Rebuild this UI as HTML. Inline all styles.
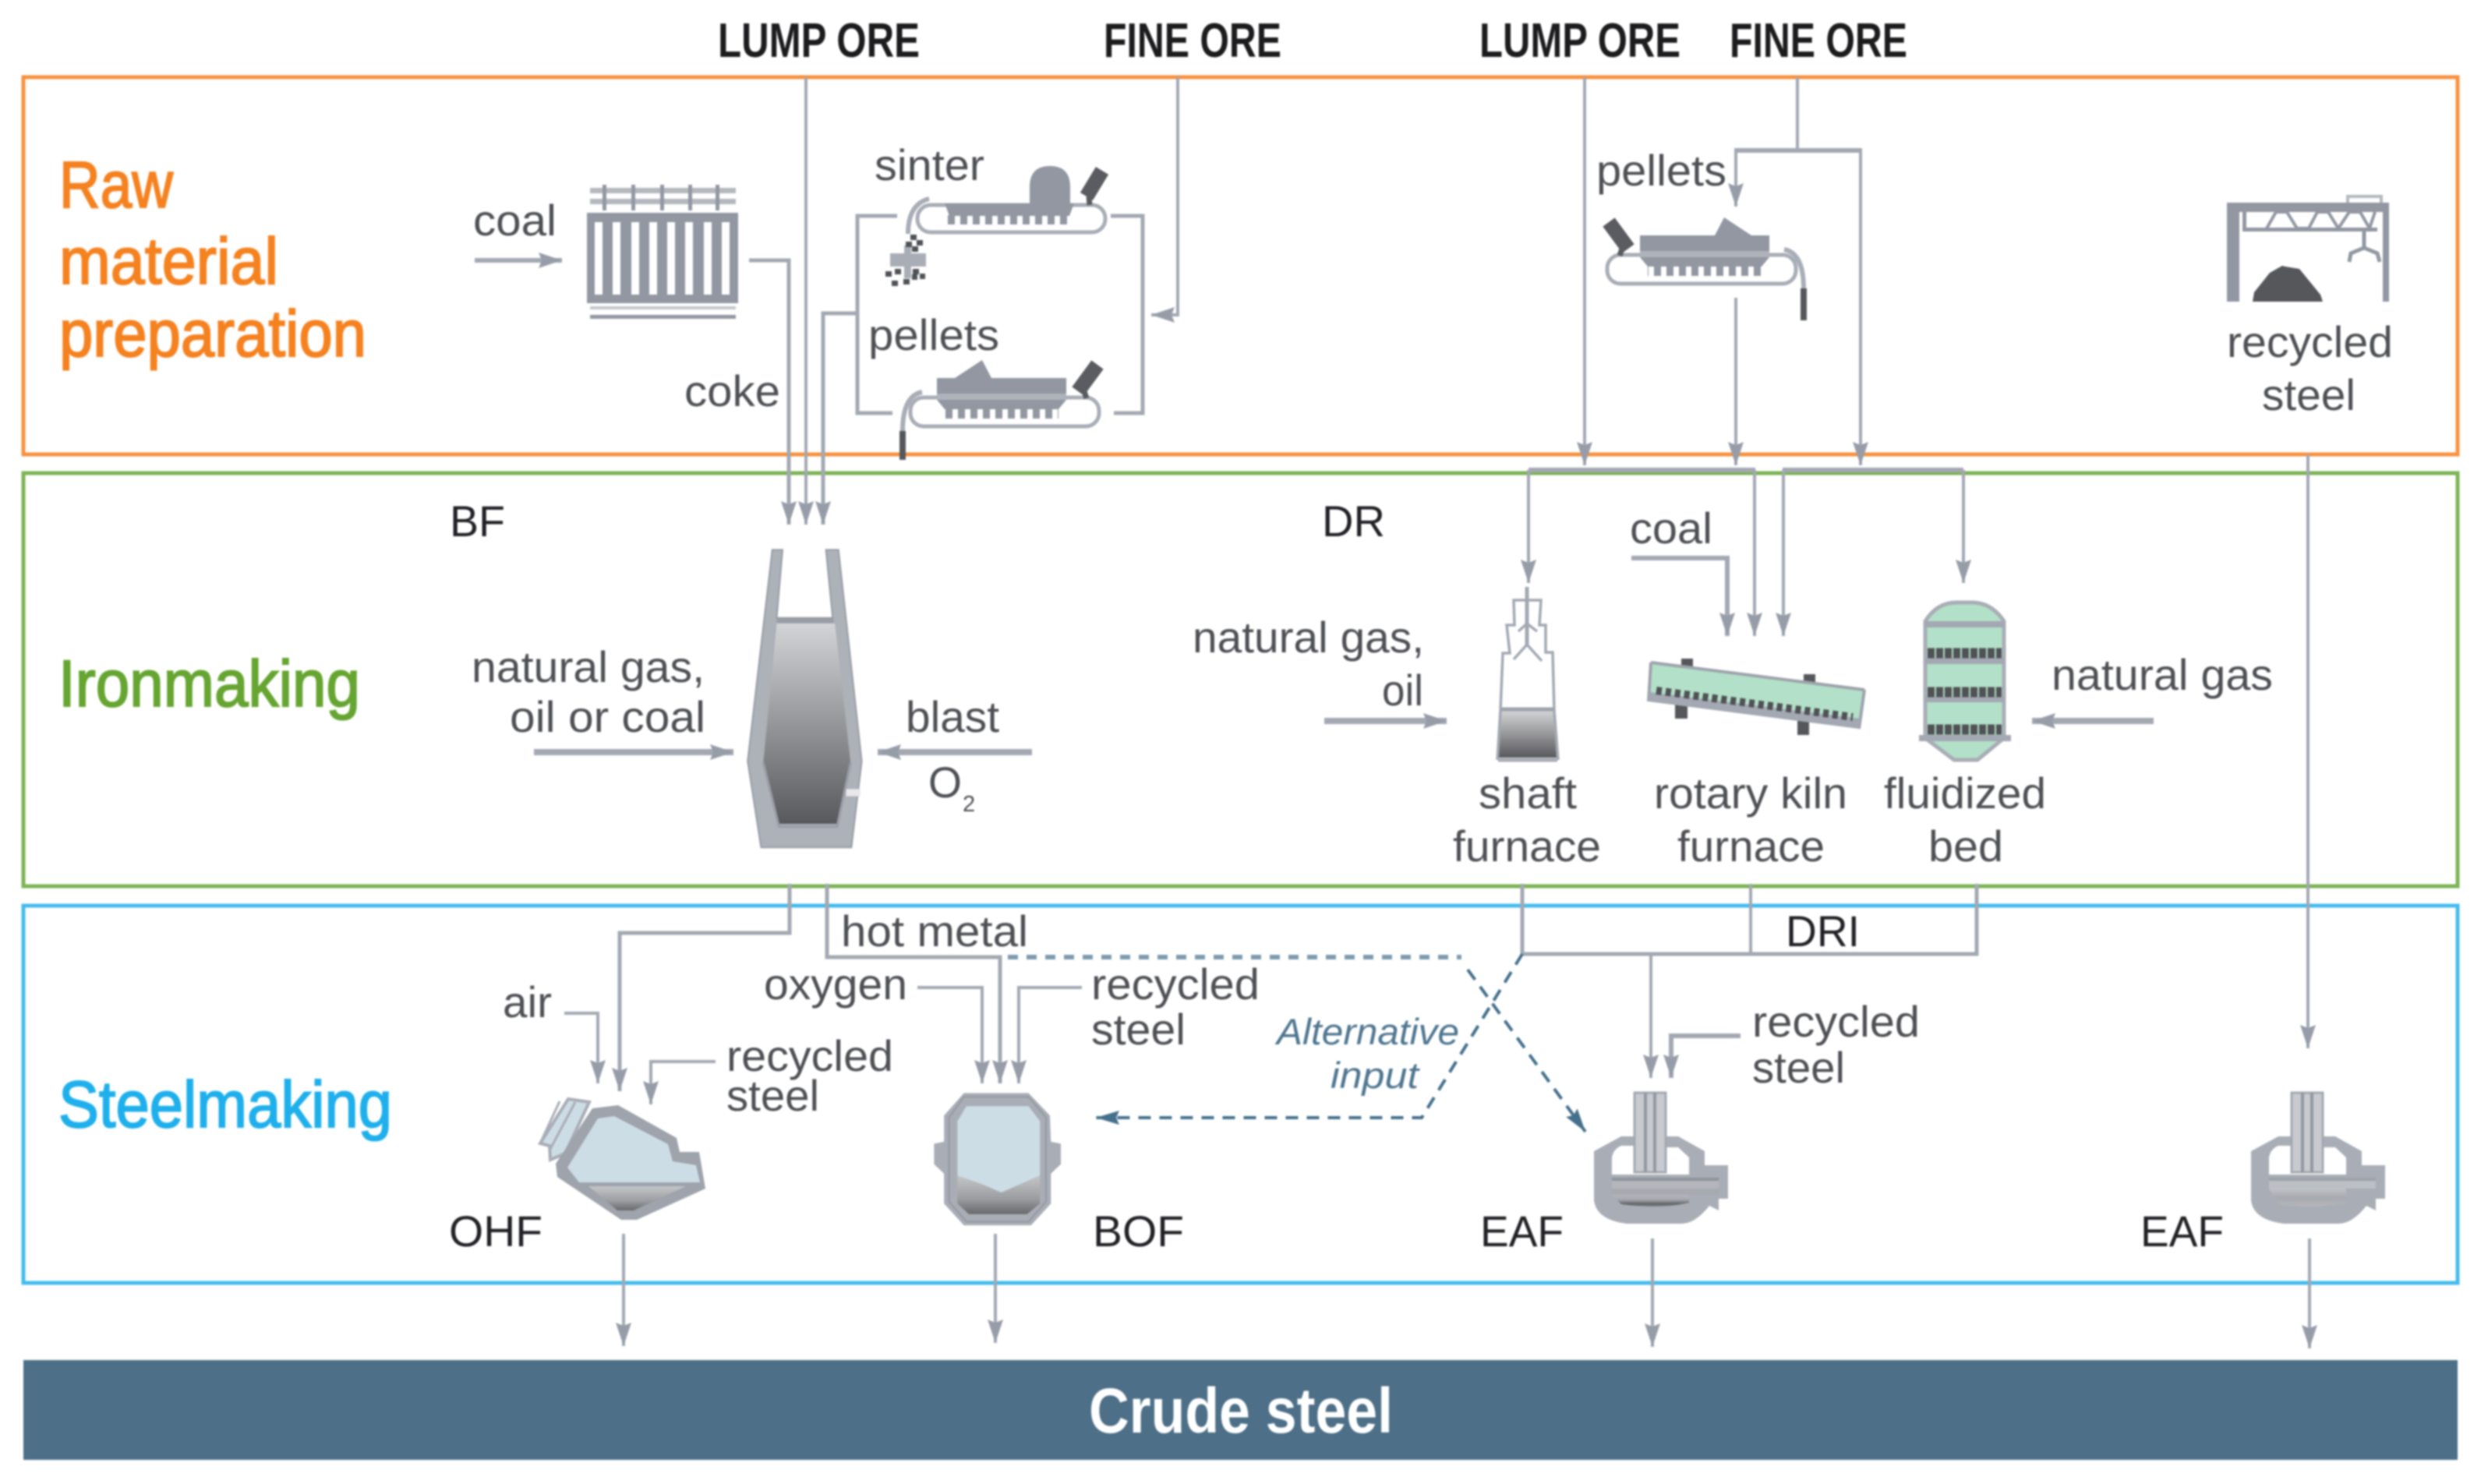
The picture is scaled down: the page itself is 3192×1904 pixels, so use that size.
<!DOCTYPE html>
<html><head><meta charset="utf-8"><style>
html,body{margin:0;padding:0;background:#fff}
svg{display:block;filter:blur(1.1px)}
text{font-family:"Liberation Sans",sans-serif;font-size:56px;fill:#4e5054}
.k{fill:#222226}
.h{font-weight:bold;font-size:62px;fill:#1c1c1e}
.o{font-size:84px;fill:#f58220;stroke:#f58220;stroke-width:2px}
.g{font-size:84px;fill:#66a531;stroke:#66a531;stroke-width:2px}
.b{font-size:84px;fill:#1fb0ec;stroke:#1fb0ec;stroke-width:2px}
.a{font-style:italic;font-size:47px;fill:#4f7690}
.l{fill:none;stroke:#a3a8b2;stroke-width:4}
.m{stroke-width:5}
.t{fill:none;stroke:#a3a8b2;stroke-width:8}
.z *{vector-effect:non-scaling-stroke}
</style></head><body>
<svg width="3192" height="1904" viewBox="0 0 3192 1904" xmlns="http://www.w3.org/2000/svg">
<defs>
<marker id="ar" markerUnits="userSpaceOnUse" markerWidth="40" markerHeight="30" refX="30" refY="15" orient="auto"><path d="M0,5 L4,15 L0,25 L30,15 Z" fill="#979da8"/></marker>
<marker id="ad" markerUnits="userSpaceOnUse" markerWidth="40" markerHeight="30" refX="30" refY="15" orient="auto"><path d="M0,6 L4,15 L0,24 L30,15 Z" fill="#44708c"/></marker>
<linearGradient id="gr1" x1="0" y1="0" x2="0" y2="1"><stop offset="0" stop-color="#d2d4d6"/><stop offset="1" stop-color="#58595d"/></linearGradient>
<linearGradient id="gr2" x1="0" y1="0" x2="0" y2="1"><stop offset="0" stop-color="#c4c6c8"/><stop offset=".6" stop-color="#9b9da1"/><stop offset="1" stop-color="#68696d"/></linearGradient>
<linearGradient id="gr3" x1="0" y1="0" x2="0" y2="1"><stop offset="0" stop-color="#b4b6bb"/><stop offset=".4" stop-color="#a7aab0"/><stop offset=".8" stop-color="#5f6064"/><stop offset="1" stop-color="#8c8e93"/></linearGradient>
<linearGradient id="gr4" x1="0" y1="0" x2="0" y2="1"><stop offset="0" stop-color="#c0c3c8"/><stop offset=".5" stop-color="#a7aab0"/><stop offset="1" stop-color="#b5b7bc"/></linearGradient>
</defs>

<!-- frames -->
<rect x="30" y="99" width="3123" height="484" fill="none" stroke="#f7923f" stroke-width="5"/>
<rect x="30" y="607" width="3123" height="530" fill="none" stroke="#7db356" stroke-width="5"/>
<rect x="30" y="1162" width="3123" height="484" fill="none" stroke="#45bced" stroke-width="5"/>
<rect x="30" y="1745" width="3123" height="128" fill="#4d6f87"/>

<!-- headers -->
<text class="h" x="921" y="73" textLength="259" lengthAdjust="spacingAndGlyphs">LUMP ORE</text>
<text class="h" x="1416" y="73" textLength="228" lengthAdjust="spacingAndGlyphs">FINE ORE</text>
<text class="h" x="1898" y="73" textLength="258" lengthAdjust="spacingAndGlyphs">LUMP ORE</text>
<text class="h" x="2219" y="73" textLength="228" lengthAdjust="spacingAndGlyphs">FINE ORE</text>

<text class="o" x="76" y="266" textLength="146" lengthAdjust="spacingAndGlyphs">Raw</text>
<text class="o" x="76" y="364" textLength="281" lengthAdjust="spacingAndGlyphs">material</text>
<text class="o" x="76" y="457" textLength="394" lengthAdjust="spacingAndGlyphs">preparation</text>
<text class="g" x="75" y="906" textLength="387" lengthAdjust="spacingAndGlyphs">Ironmaking</text>
<text class="b" x="75" y="1446" textLength="428" lengthAdjust="spacingAndGlyphs">Steelmaking</text>
<text x="1397" y="1838" textLength="390" lengthAdjust="spacingAndGlyphs" style="font-size:82px;font-weight:bold;fill:#fff">Crude steel</text>

<!-- raw zone connectors -->
<path class="t" d="M609,334 H721" style="stroke-width:6" marker-end="url(#ar)"/>
<path class="l m" d="M961,334 H1012 V673" marker-end="url(#ar)"/>
<path class="l" d="M1034,99 V673" marker-end="url(#ar)"/>
<path class="l m" d="M1100,402 H1056 V673" marker-end="url(#ar)"/>
<path class="l m" d="M1151,277 H1100 V530 H1145"/>
<path class="l m" d="M1425,277 H1466 V530 H1429"/>
<path class="l" d="M1511,99 V404 H1477" marker-end="url(#ar)"/>
<path class="l" d="M2033,99 V597" marker-end="url(#ar)"/>
<path class="l" d="M2306,99 V193"/>
<path class="l" d="M2227,193 V265" marker-end="url(#ar)"/>
<path class="l" d="M2387,193 V597" marker-end="url(#ar)"/>
<path class="l" style="stroke-width:6" d="M2225,193 H2389"/>
<path class="l" d="M2227,382 V597" marker-end="url(#ar)"/>
<path class="l" style="stroke-width:6" d="M1961,603 H2252"/>
<path class="l" style="stroke-width:6" d="M2287,603 H2519"/>
<path class="l" d="M1961,603 V748" marker-end="url(#ar)"/>
<path class="l" d="M2251,603 V816" marker-end="url(#ar)"/>
<path class="l" d="M2288,603 V816" marker-end="url(#ar)"/>
<path class="l" d="M2519,603 V748" marker-end="url(#ar)"/>
<path class="l" style="stroke-width:6" d="M2093,716 H2216 V816" marker-end="url(#ar)"/>
<path class="l" d="M2961,583 V1345" marker-end="url(#ar)"/>

<!-- ironmaking arrows -->
<path class="t" d="M685,965 H941" marker-end="url(#ar)"/>
<path class="t" d="M1324,965 H1126" marker-end="url(#ar)"/>
<path class="t" d="M1699,925 H1856" marker-end="url(#ar)"/>
<path class="t" d="M2763,925 H2607" marker-end="url(#ar)"/>

<!-- steel connectors -->
<path class="l m" d="M1013,1134 V1197 H795 V1400" marker-end="url(#ar)"/>
<path class="l m" d="M1061,1134 V1228 H1283 V1390" marker-end="url(#ar)"/>
<path class="l m" d="M1953,1134 V1224 H2536 V1134"/>
<path class="l" d="M2246,1134 V1224"/>
<path class="l" d="M2118,1224 V1383" marker-end="url(#ar)"/>
<path class="l" style="stroke-width:6" d="M2233,1329 H2144 V1383" marker-end="url(#ar)"/>
<path class="l" d="M724,1300 H767 V1390" marker-end="url(#ar)"/>
<path class="l" d="M918,1362 H835 V1417" marker-end="url(#ar)"/>
<path class="l" d="M1177,1267 H1260 V1390" marker-end="url(#ar)"/>
<path class="l" d="M1388,1267 H1307 V1390" marker-end="url(#ar)"/>
<path class="l" d="M800,1583 V1727" marker-end="url(#ar)"/>
<path class="l" d="M1277,1583 V1723" marker-end="url(#ar)"/>
<path class="l" d="M2120,1589 V1728" marker-end="url(#ar)"/>
<path class="l" d="M2963,1589 V1730" marker-end="url(#ar)"/>

<!-- dashed -->
<path d="M1293,1228 H1875" fill="none" stroke="#7d9bb0" stroke-width="6" stroke-dasharray="13 11"/>
<path d="M1883,1244 L2034,1452" fill="none" stroke="#44708c" stroke-width="4" stroke-dasharray="16 11" marker-end="url(#ad)"/>
<path d="M1953,1224 L1824,1434 H1406" fill="none" stroke="#44708c" stroke-width="4" stroke-dasharray="16 11" marker-end="url(#ad)"/>

<!-- coke oven -->
<g fill="#9297a2">
<rect x="753" y="273" width="194" height="116"/>
<g fill="#fff"><rect x="763" y="285" width="10" height="93"/><rect x="786" y="285" width="10" height="93"/><rect x="810" y="285" width="10" height="93"/><rect x="833" y="285" width="10" height="93"/><rect x="856" y="285" width="10" height="93"/><rect x="879" y="285" width="10" height="93"/><rect x="903" y="285" width="10" height="93"/><rect x="926" y="285" width="10" height="93"/></g>
<rect x="757" y="241" width="187" height="7" fill="#b5b8bf"/><rect x="757" y="255" width="187" height="7" fill="#b5b8bf"/>
<rect x="773" y="237" width="5" height="33"/><rect x="810" y="237" width="5" height="33"/><rect x="847" y="237" width="5" height="33"/><rect x="883" y="237" width="5" height="33"/><rect x="918" y="237" width="5" height="33"/>
<rect x="757" y="393" width="187" height="4" fill="#c5c8cd"/><rect x="757" y="404" width="187" height="5"/>
</g>

<!-- sinter -->
<rect x="1177" y="263" width="241" height="35" rx="17" fill="#fff" stroke="#a9adb6" stroke-width="5"/>
<path d="M1321,263 V240 Q1321,213 1347,213 Q1373,213 1373,240 V263 Z" fill="#9297a2"/>
<path d="M1212,261 H1378 L1372,277 H1218 Z" fill="#9297a2"/>
<path d="M1216,282 H1374" stroke="#9297a2" stroke-width="12" stroke-dasharray="9 7"/>
<path d="M1414,219 L1394,252" stroke="#5a5c61" stroke-width="19"/>
<path d="M1397,252 L1398,263" stroke="#5a5c61" stroke-width="7"/>
<path d="M1192,255 Q1165,262 1165,300" fill="none" stroke="#a9adb6" stroke-width="6"/>
<rect x="1142" y="325" width="46" height="17" fill="#a9adb6"/>
<rect x="1160" y="315" width="9" height="42" fill="#a9adb6"/>
<g fill="#505256"><rect x="1168" y="301" width="8" height="7"/><rect x="1176" y="308" width="8" height="7"/><rect x="1162" y="310" width="8" height="7"/><rect x="1170" y="316" width="8" height="7"/><rect x="1136" y="348" width="8" height="7"/><rect x="1148" y="345" width="8" height="7"/><rect x="1171" y="345" width="8" height="7"/><rect x="1180" y="351" width="7" height="7"/><rect x="1144" y="360" width="8" height="7"/><rect x="1159" y="358" width="8" height="7"/><rect x="1170" y="352" width="7" height="7"/></g>

<!-- pellets machine (two instances) -->
<g>
<rect x="1168" y="510" width="242" height="37" rx="17" fill="#fff" stroke="#a9adb6" stroke-width="5"/>
<path d="M1202,505 V485 H1225 L1260,462 L1272,485 H1368 V505 Z" fill="#9297a2"/>
<path d="M1202,505 H1368 V513 H1202 Z" fill="#aeb2ba"/>
<path d="M1202,513 H1368 L1358,525 H1212 Z" fill="#9297a2"/>
<path d="M1213,531 H1358" stroke="#9297a2" stroke-width="12" stroke-dasharray="9 7"/>
<path d="M1408,468 L1383,502" stroke="#5a5c61" stroke-width="19"/>
<path d="M1391,502 L1394,511" stroke="#5a5c61" stroke-width="7"/>
<path d="M1183,503 Q1158,508 1158,553" fill="none" stroke="#a9adb6" stroke-width="6"/>
<path d="M1158,553 V590" stroke="#55575b" stroke-width="8"/>
</g>
<g transform="translate(3472,-183) scale(-1,1)">
<rect x="1168" y="510" width="242" height="37" rx="17" fill="#fff" stroke="#a9adb6" stroke-width="5"/>
<path d="M1202,505 V485 H1225 L1260,462 L1272,485 H1368 V505 Z" fill="#9297a2"/>
<path d="M1202,505 H1368 V513 H1202 Z" fill="#aeb2ba"/>
<path d="M1202,513 H1368 L1358,525 H1212 Z" fill="#9297a2"/>
<path d="M1213,531 H1358" stroke="#9297a2" stroke-width="12" stroke-dasharray="9 7"/>
<path d="M1408,468 L1383,502" stroke="#5a5c61" stroke-width="19"/>
<path d="M1391,502 L1394,511" stroke="#5a5c61" stroke-width="7"/>
<path d="M1183,503 Q1158,508 1158,553" fill="none" stroke="#a9adb6" stroke-width="6"/>
<path d="M1158,553 V594" stroke="#55575b" stroke-width="8"/>
</g>

<!-- crane -->
<g fill="#9297a2">
<rect x="2857" y="260" width="208" height="12"/>
<rect x="2857" y="260" width="16" height="127"/>
<rect x="3057" y="260" width="8" height="127"/>
<rect x="2877" y="292" width="173" height="5"/>
<rect x="2877" y="272" width="5" height="22"/>
<path d="M2908,293 L2920,272 L2934,272 L2947,293 L2962,293 L2973,272 L2987,272 L3000,293 L3014,272 L3028,272 L3040,293 L3047,272" fill="none" stroke="#9297a2" stroke-width="4"/>
<path d="M3012,260 V252 H3055 V260" fill="none" stroke="#b5b8bf" stroke-width="4"/>
<path d="M3033,296 V318 M3033,318 L3016,325 L3014,336 M3033,318 L3050,325 L3053,336" fill="none" stroke="#9297a2" stroke-width="5"/>
</g>
<path d="M2890,387 H2980 L2977,378 L2950,345 L2932,342 L2928,341 L2912,350 L2892,375 Z" fill="#55575b"/>

<!-- BF -->
<g class="z" transform="translate(500,600) scale(.574,.357)">
<path d="M855,295 L800,1055 L830,1365 L1032,1365 L1055,1055 L1003,295 L975,295 L990,540 L865,540 L878,295 Z" fill="#adb1b8" stroke="#999da6" stroke-width="2"/>
<path d="M865,560 L995,560 L1030,1060 L1000,1280 L870,1280 L835,1060 Z" fill="url(#gr1)"/>
<path d="M865,550 H992" stroke="#999da6" stroke-width="6"/>
<path d="M835,1060 L870,1290 H1000 L1030,1060" fill="none" stroke="#999da6" stroke-width="3"/>
<rect x="1020" y="1155" width="32" height="26" fill="#e8e8ea"/>
</g>

<!-- shaft furnace -->
<path d="M1925,912 H1993 L1997,972 H1922 Z" fill="url(#gr1)"/>
<path d="M1922,975 H1998" stroke="#a9adb6" stroke-width="5"/>
<path d="M1924,910 H1994" stroke="#9ea3ac" stroke-width="5"/>
<g fill="none" stroke="#a3a8b2" stroke-width="3.5">
<path d="M1921,975 L1925,912 L1928,838 H1937 L1933,802 H1943 L1942,770 H1977 L1975,802 H1983 V837 H1992 L1994,912 L1999,975"/>
<path d="M1942,846 L1959,827 L1978,848"/>
<path d="M1948,810 L1959,800 L1972,810"/>
</g>
<path d="M1959,753 V827" stroke="#a3a8b2" stroke-width="5"/>

<!-- kiln -->
<g fill="#55575b">
<rect x="2157" y="845" width="15" height="14"/>
<rect x="2314" y="865" width="15" height="16"/>
<rect x="2149" y="902" width="16" height="20"/>
<rect x="2306" y="922" width="15" height="21"/>
</g>
<path d="M2118,850 L2392,885 L2385,935 L2115,900 Z" fill="#b3e0c8"/>
<path d="M2118,850 L2392,885 M2118,850 L2115,900 M2392,885 L2385,935" fill="none" stroke="#9ea3ac" stroke-width="4"/>
<path d="M2116,888 L2387,922 L2385,935 L2115,900 Z" fill="#a3a8b2"/>
<path d="M2125,886 L2377,920" stroke="#4f5155" stroke-width="10" stroke-dasharray="7 5"/>

<!-- fluidized bed -->
<path d="M2470,797 Q2485,773 2510,773 H2530 Q2555,773 2571,797 V947 L2537,975 H2507 L2470,947 Z" fill="#b3e0c8" stroke="#a9adb6" stroke-width="5"/>
<rect x="2470" y="797" width="101" height="8" fill="#a3a8b2"/>
<rect x="2470" y="844" width="101" height="8" fill="#a3a8b2"/>
<rect x="2470" y="894" width="101" height="7" fill="#a3a8b2"/>
<rect x="2462" y="943" width="118" height="8" fill="#a3a8b2"/>
<path d="M2473,838 H2568 M2473,888 H2568 M2473,936 H2568" stroke="#505256" stroke-width="13" stroke-dasharray="9 2"/>

<!-- OHF -->
<path d="M729,1410 L756,1414 L725,1480 L706,1488 L705,1470 L693,1467 Z" fill="#cddde6" stroke="#a9adb6" stroke-width="4"/>
<path d="M718,1413 L693,1467 M738,1414 L705,1476" stroke="#a9adb6" stroke-width="3"/>
<path d="M760,1422 L793,1418 L868,1460 L872,1478 L897,1478 L905,1525 L817,1565 L797,1565 L715,1510 L713,1493 Z" fill="#9ea3ac"/>
<path d="M767,1435 L788,1432 L857,1468 L863,1490 L893,1495 L898,1517 L743,1517 L728,1498 Z" fill="#cddde6"/>
<path d="M755,1522 H880 L813,1553 H792 Z" fill="url(#gr2)"/>

<!-- BOF -->
<g class="z" transform="translate(500,1150) scale(.6378,.4808)">
<path d="M1155,525 L1285,525 L1328,585 L1330,655 L1350,660 L1350,715 L1330,740 L1330,820 L1290,878 L1155,878 L1115,820 L1115,740 L1095,715 L1095,660 L1115,655 L1115,585 Z" fill="#a9adb6"/>
<path d="M1155,535 L1285,535 L1320,590 V815 L1285,868 H1160 L1125,815 V590 Z" fill="none" stroke="#94989f" stroke-width="2"/>
<path d="M1160,560 L1285,560 L1308,600 L1308,745 L1265,770 L1230,790 L1195,770 L1142,745 L1142,600 Z" fill="#cddde6"/>
<path d="M1142,745 L1195,770 L1230,792 L1265,770 L1308,745 L1308,820 L1282,848 L1165,848 L1142,820 Z" fill="url(#gr2)"/>
</g>

<!-- EAF 1 -->
<path d="M2045,1477 L2080,1458 H2097 V1470 H2080 Q2070,1474 2068,1485 V1507 H2167 V1485 L2153,1472 H2137 V1458 H2153 L2187,1477 V1495 H2217 V1538 H2205 V1553 L2193,1547 Q2175,1570 2157,1570 H2087 Q2048,1565 2045,1540 Z" fill="#a9adb6"/>
<rect x="2068" y="1513" width="137" height="12" fill="#b4b6bb"/>
<rect x="2068" y="1511" width="137" height="4" fill="#8f939c"/>
<rect x="2068" y="1525" width="137" height="8" fill="#a7aab0"/>
<path d="M2068,1533 H2167 V1543 Q2130,1552 2080,1545 Z" fill="url(#gr3)"/>
<rect x="2097" y="1402" width="40" height="102" fill="#c8cacf" stroke="#a3a8b2" stroke-width="3"/>
<path d="M2111,1402 V1504 M2123,1402 V1504" stroke="#9297a2" stroke-width="4"/>
<!-- EAF 2 -->
<g transform="translate(843,0)">
<path d="M2045,1477 L2080,1458 H2097 V1470 H2080 Q2070,1474 2068,1485 V1507 H2167 V1485 L2153,1472 H2137 V1458 H2153 L2187,1477 V1495 H2217 V1538 H2205 V1553 L2193,1547 Q2175,1570 2157,1570 H2087 Q2048,1565 2045,1540 Z" fill="#a9adb6"/>
<rect x="2068" y="1513" width="137" height="12" fill="#bcbfc4"/>
<rect x="2068" y="1511" width="137" height="4" fill="#9ea2aa"/>
<path d="M2068,1525 H2167 V1543 Q2130,1552 2080,1545 Z" fill="url(#gr4)"/>
<rect x="2097" y="1402" width="40" height="102" fill="#c8cacf" stroke="#a3a8b2" stroke-width="3"/>
<path d="M2111,1402 V1504 M2123,1402 V1504" stroke="#9297a2" stroke-width="4"/>
</g>

<!-- labels -->
<g transform="translate(-2,0)">
<text x="609" y="302" textLength="107" lengthAdjust="spacingAndGlyphs">coal</text>
<text x="880" y="521" textLength="123" lengthAdjust="spacingAndGlyphs">coke</text>
<text x="1124" y="231" textLength="141" lengthAdjust="spacingAndGlyphs">sinter</text>
<text x="1116" y="449" textLength="168" lengthAdjust="spacingAndGlyphs">pellets</text>
<text x="2050" y="238" textLength="167" lengthAdjust="spacingAndGlyphs">pellets</text>
<text x="2859" y="458" textLength="213" lengthAdjust="spacingAndGlyphs">recycled</text>
<text x="2904" y="526" textLength="120" lengthAdjust="spacingAndGlyphs">steel</text>
<text class="k" x="579" y="688" textLength="71" lengthAdjust="spacingAndGlyphs">BF</text>
<text x="607" y="875" textLength="299" lengthAdjust="spacingAndGlyphs">natural gas,</text>
<text x="656" y="939" textLength="251" lengthAdjust="spacingAndGlyphs">oil or coal</text>
<text x="1164" y="939" textLength="120" lengthAdjust="spacingAndGlyphs">blast</text>
<text x="1193" y="1023" textLength="43" lengthAdjust="spacingAndGlyphs">O</text>
<text x="1237" y="1041" style="font-size:29px">2</text>
<text class="k" x="1698" y="688" textLength="81" lengthAdjust="spacingAndGlyphs">DR</text>
<text x="2093" y="697" textLength="106" lengthAdjust="spacingAndGlyphs">coal</text>
<text x="1532" y="837" textLength="297" lengthAdjust="spacingAndGlyphs">natural gas,</text>
<text x="1775" y="905" textLength="53" lengthAdjust="spacingAndGlyphs">oil</text>
<text x="2634" y="885" textLength="284" lengthAdjust="spacingAndGlyphs">natural gas</text>
<text x="1899" y="1037" textLength="126" lengthAdjust="spacingAndGlyphs">shaft</text>
<text x="1866" y="1105" textLength="190" lengthAdjust="spacingAndGlyphs">furnace</text>
<text x="2124" y="1037" textLength="248" lengthAdjust="spacingAndGlyphs">rotary kiln</text>
<text x="2154" y="1105" textLength="189" lengthAdjust="spacingAndGlyphs">furnace</text>
<text x="2419" y="1037" textLength="208" lengthAdjust="spacingAndGlyphs">fluidized</text>
<text x="2476" y="1105" textLength="96" lengthAdjust="spacingAndGlyphs">bed</text>
<text x="1081" y="1214" textLength="240" lengthAdjust="spacingAndGlyphs">hot metal</text>
<text x="982" y="1282" textLength="184" lengthAdjust="spacingAndGlyphs">oxygen</text>
<text x="647" y="1305" textLength="63" lengthAdjust="spacingAndGlyphs">air</text>
<text x="934" y="1374" textLength="214" lengthAdjust="spacingAndGlyphs">recycled</text>
<text x="934" y="1425" textLength="119" lengthAdjust="spacingAndGlyphs">steel</text>
<text class="k" x="578" y="1599" textLength="120" lengthAdjust="spacingAndGlyphs">OHF</text>
<text class="k" x="1404" y="1599" textLength="117" lengthAdjust="spacingAndGlyphs">BOF</text>
<text x="1402" y="1282" textLength="216" lengthAdjust="spacingAndGlyphs">recycled</text>
<text x="1402" y="1340" textLength="121" lengthAdjust="spacingAndGlyphs">steel</text>
<text class="k" x="2293" y="1214" textLength="95" lengthAdjust="spacingAndGlyphs">DRI</text>
<text x="2250" y="1330" textLength="215" lengthAdjust="spacingAndGlyphs">recycled</text>
<text x="2250" y="1389" textLength="119" lengthAdjust="spacingAndGlyphs">steel</text>
<text class="a" x="1640" y="1340" textLength="234" lengthAdjust="spacingAndGlyphs">Alternative</text>
<text class="a" x="1709" y="1396" textLength="113" lengthAdjust="spacingAndGlyphs">input</text>
<text class="k" x="1901" y="1599" textLength="107" lengthAdjust="spacingAndGlyphs">EAF</text>
<text class="k" x="2748" y="1599" textLength="107" lengthAdjust="spacingAndGlyphs">EAF</text>
</g>
</svg>
</body></html>
